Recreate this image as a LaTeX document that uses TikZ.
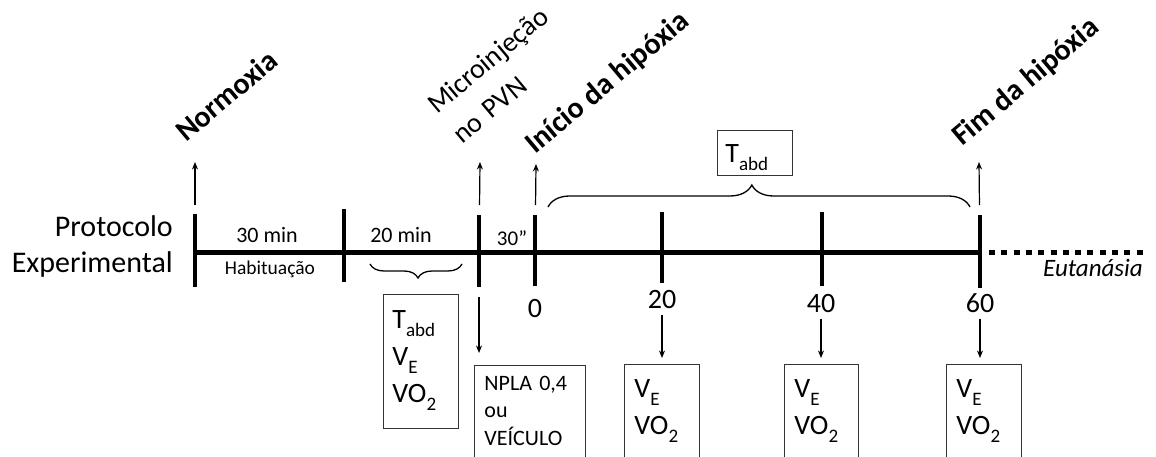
\documentclass[tikz,border=0pt]{standalone}
\usepackage{fontspec}
\setmainfont{Carlito}
\usetikzlibrary{arrows.meta,decorations.pathreplacing,calc}
\newcommand\lsub[1]{\raisebox{-0.28em}{\scalebox{0.68}{#1}}}
\newcommand\fsz[2]{\fontsize{#1bp}{#2bp}\selectfont}
\tikzset{
  tl/.style={line width=5bp},
  tickline/.style={line width=3.8bp},
  dotline/.style={line width=5bp, dash pattern=on 6bp off 6.3bp},
  arr/.style={line width=1.2bp, -{Stealth[length=7.5bp,width=6bp]}},
  box/.style={draw=black!80, line width=0.9bp, anchor=north west, align=left, inner ysep=0pt},
  brc/.style={decorate, line width=1.3bp},
  rlab/.style={rotate=40, anchor=base west, inner sep=0pt},
  num/.style={anchor=base, inner sep=0pt, font=\fsz{28}{34}},
}
\begin{document}
\begin{tikzpicture}[x=1bp,y=-1bp]
\useasboundingbox (0,0) rectangle (1156,457);
\clip (0,0) rectangle (1156,457);

% timeline points
\coordinate (p0) at (195,253);
\coordinate (p1) at (344,253);
\coordinate (p2) at (479,253);
\coordinate (p3) at (535,253);
\coordinate (p4) at (662,253);
\coordinate (p5) at (822,253);
\coordinate (p6) at (980,253);
\coordinate (dend) at (1145,253);

\draw[tl] (p0) -- (p6);
\draw[dotline] ($(p6)+(9,0)$) -- (dend);

\draw[tickline] ($(p0)+(0,-39)$) -- ($(p0)+(0,34)$);
\draw[tickline] ($(p1)+(0,-44)$) -- ($(p1)+(0,29)$);
\draw[tickline] ($(p2)+(0,-38)$) -- ($(p2)+(0,34)$);
\draw[tickline] ($(p3)+(0,-38)$) -- ($(p3)+(0,33)$);
\draw[tickline] ($(p4)+(0,-41)$) -- ($(p4)+(0,30)$);
\draw[tickline] ($(p5)+(0,-41)$) -- ($(p5)+(0,33)$);
\draw[tickline] ($(p6)+(0,-38)$) -- ($(p6)+(0,35)$);

% left label
\node[align=right, anchor=east, inner sep=0pt, font=\fsz{30}{36}] (prot) at (173,247) {Protocolo\\Experimental};

% segment labels
\node[anchor=base, inner sep=0pt, font=\fsz{22}{26}] (l30) at (267,243) {30 min};
\node[anchor=base, inner sep=0pt, font=\fsz{19.5}{24}] (hab) at (270,275) {Habituação};
\node[anchor=base, inner sep=0pt, font=\fsz{22}{26}] (l20) at (401,243) {20 min};
\node[anchor=base, inner sep=0pt, font=\fsz{21}{25}] (l30s) at (512,246) {30”};

% numbers
\node[num] (n0) at (535,318) {0};
\node[num] (n20) at (662,309) {20};
\node[num] (n40) at (821,313) {40};
\node[num] (n60) at (980,313) {60};

\node[anchor=base east, inner sep=0pt, font=\itshape\fsz{25}{30}] (eut) at (1143,277) {Eutanásia};

% rotated event labels
\coordinate (u0) at (195,162);
\coordinate (u2) at (480,162);
\coordinate (u3) at (536,164);
\coordinate (u6) at (979,162);
\draw[arr, shorten <=48bp] (p0) -- (u0);
\draw[arr, shorten <=48bp] (p2) -- (u2);
\draw[arr, shorten <=48bp] (p3) -- (u3);
\draw[arr, shorten <=48bp] (p6) -- (u6);

\node[rlab, font=\bfseries\fsz{30}{36}] (norm) at (186,143) {Normoxia};
\node[rlab, text width=152bp, align=left, font=\fsz{28}{39}] (micro) at (437,115) {Microinjeção\\no PVN};
\node[rlab, font=\bfseries\fsz{30}{36}] (ini) at (535,155) {Início da hipóxia};
\node[rlab, font=\bfseries\fsz{30}{36}] (fim) at (962,147) {Fim da hipóxia};

% braces
\draw[brc, decoration={brace, amplitude=22bp, aspect=0.483}] (548,207) -- (970,207);
\draw[brc, decoration={brace, amplitude=14bp, aspect=0.478}] (462,264) -- (370,264);

% boxes
\node[box, text width=59bp, inner xsep=8bp, text height=32bp, text depth=13bp, font=\fsz{28}{37}] (bT) at (717,130) {T\lsub{abd}};
\node[box, text width=57bp, inner xsep=9bp, text height=34bp, text depth=100bp, font=\fsz{28}{37}] (bpre) at (383,294) {T\lsub{abd}\\V\lsub{E}\\VO\lsub{2}};
\node[box, text width=91bp, inner xsep=10bp, text height=25bp, text depth=110bp, font=\fsz{22}{27.5}] (binj) at (474,365) {NPLA 0,4\\ou\\VEÍCULO};
\node[box, text width=55bp, inner xsep=10bp, text height=33bp, text depth=110bp, font=\fsz{28}{37}] (b20) at (624,364) {V\lsub{E}\\VO\lsub{2}};
\node[box, text width=54bp, inner xsep=10bp, text height=33bp, text depth=110bp, font=\fsz{28}{37}] (b40) at (784,364) {V\lsub{E}\\VO\lsub{2}};
\node[box, text width=55bp, inner xsep=10bp, text height=33bp, text depth=110bp, font=\fsz{28}{37}] (b60) at (946,364) {V\lsub{E}\\VO\lsub{2}};

% down arrows
\draw[arr, shorten <=44bp, shorten >=12bp] (p2) -- (p2 |- binj.north);
\draw[arr, shorten <=6bp, shorten >=6bp] (n20.south) -- (n20.south |- b20.north);
\draw[arr, shorten <=6bp, shorten >=6bp] (n40.south) -- (n40.south |- b40.north);
\draw[arr, shorten <=6bp, shorten >=6bp] (n60.south) -- (n60.south |- b60.north);
\end{tikzpicture}
\end{document}
